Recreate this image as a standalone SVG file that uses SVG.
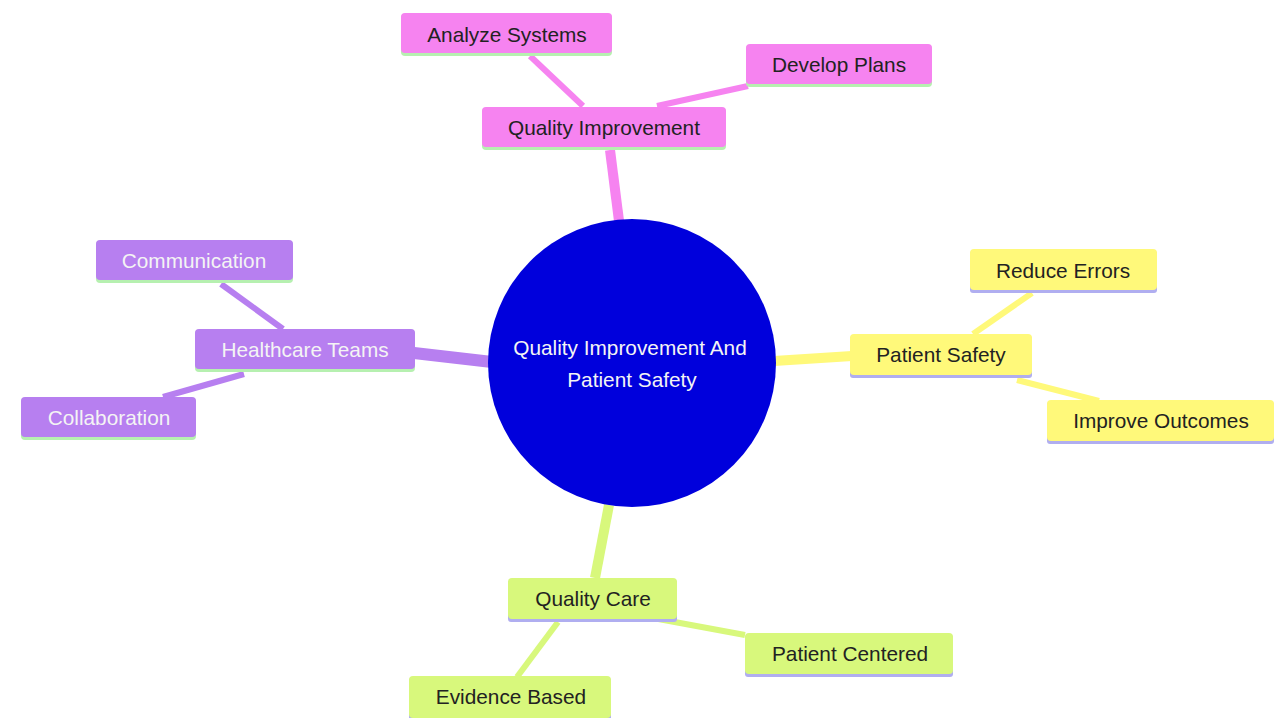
<svg xmlns="http://www.w3.org/2000/svg" width="1274" height="718" viewBox="0 0 1274 718">
<style>
text{font-family:"Liberation Sans",Arial,sans-serif;font-size:20.8px;text-anchor:middle;dominant-baseline:central}
.pk rect.b{fill:#f683f0}.pu rect.b{fill:#b77ff0}.ye rect.b{fill:#fff97a}.li rect.b{fill:#d8f87c}
.ul-g{fill:#b6f0b0}.ul-l{fill:#b0aef0}
.dk{fill:#222}.wt{fill:#f4f4f4}
.c{fill:none;stroke-linecap:butt}
</style>
<rect width="1274" height="718" fill="#fff"/>
<g id="connectors">
<line class="c" x1="619" y1="221" x2="610" y2="150" stroke="#f683f0" stroke-width="10"/>
<line class="c" x1="530" y1="56" x2="583" y2="106" stroke="#f683f0" stroke-width="6"/>
<line class="c" x1="657" y1="106" x2="748" y2="86" stroke="#f683f0" stroke-width="6"/>
<line class="c" x1="414" y1="353" x2="492" y2="362" stroke="#b77ff0" stroke-width="12"/>
<line class="c" x1="221" y1="284" x2="283" y2="329" stroke="#b77ff0" stroke-width="6"/>
<line class="c" x1="163" y1="397" x2="244" y2="374" stroke="#b77ff0" stroke-width="6"/>
<line class="c" x1="774" y1="361" x2="852" y2="356" stroke="#fff97a" stroke-width="10"/>
<line class="c" x1="973" y1="334" x2="1032" y2="293" stroke="#fff97a" stroke-width="6"/>
<line class="c" x1="1017" y1="380" x2="1099" y2="401" stroke="#fff97a" stroke-width="6"/>
<line class="c" x1="609" y1="505" x2="595" y2="578" stroke="#d8f87c" stroke-width="10"/>
<line class="c" x1="653" y1="618" x2="745" y2="635" stroke="#d8f87c" stroke-width="6"/>
<line class="c" x1="558" y1="622" x2="517" y2="677" stroke="#d8f87c" stroke-width="6"/>
</g>
<g id="root">
<circle cx="632" cy="363" r="144" fill="#0000dc"/>
<text x="630" y="347" class="wt">Quality Improvement And</text>
<text x="632" y="379" class="wt">Patient Safety</text>
</g>
<g id="n-qi" class="pk"><rect class="ul-g" x="482" y="108" width="244" height="42" rx="4"/><rect class="b" x="482" y="107" width="244" height="40" rx="4"/><text x="604" y="127" class="dk">Quality Improvement</text></g>
<g id="n-as" class="pk"><rect class="ul-g" x="401" y="14" width="211" height="42" rx="4"/><rect class="b" x="401" y="13" width="211" height="40" rx="4"/><text x="507" y="34" class="dk">Analyze Systems</text></g>
<g id="n-dp" class="pk"><rect class="ul-g" x="746" y="45" width="186" height="42" rx="4"/><rect class="b" x="746" y="44" width="186" height="40" rx="4"/><text x="839" y="64" class="dk">Develop Plans</text></g>
<g id="n-ht" class="pu"><rect class="ul-g" x="195" y="330" width="220" height="42" rx="4"/><rect class="b" x="195" y="329" width="220" height="40" rx="4"/><text x="305" y="349" class="wt">Healthcare Teams</text></g>
<g id="n-cm" class="pu"><rect class="ul-g" x="96" y="241" width="197" height="42" rx="4"/><rect class="b" x="96" y="240" width="197" height="40" rx="4"/><text x="194" y="260" class="wt">Communication</text></g>
<g id="n-co" class="pu"><rect class="ul-g" x="21" y="398" width="175" height="42" rx="4"/><rect class="b" x="21" y="397" width="175" height="40" rx="4"/><text x="109" y="417" class="wt">Collaboration</text></g>
<g id="n-ps" class="ye"><rect class="ul-l" x="850" y="336" width="182" height="42" rx="3"/><rect class="b" x="850" y="334" width="182" height="41" rx="4"/><text x="941" y="354" class="dk">Patient Safety</text></g>
<g id="n-re" class="ye"><rect class="ul-l" x="970" y="251" width="187" height="42" rx="3"/><rect class="b" x="970" y="249" width="187" height="41" rx="4"/><text x="1063" y="270" class="dk">Reduce Errors</text></g>
<g id="n-io" class="ye"><rect class="ul-l" x="1047" y="402" width="227" height="42" rx="3"/><rect class="b" x="1047" y="400" width="227" height="41" rx="4"/><text x="1161" y="420" class="dk">Improve Outcomes</text></g>
<g id="n-qc" class="li"><rect class="ul-l" x="508" y="580" width="169" height="42" rx="3"/><rect class="b" x="508" y="578" width="169" height="41" rx="4"/><text x="593" y="598" class="dk">Quality Care</text></g>
<g id="n-pc" class="li"><rect class="ul-l" x="745" y="635" width="208" height="42" rx="3"/><rect class="b" x="745" y="633" width="208" height="41" rx="4"/><text x="850" y="653" class="dk">Patient Centered</text></g>
<g id="n-eb" class="li"><rect class="ul-l" x="409" y="678" width="202" height="42" rx="3"/><rect class="b" x="409" y="676" width="202" height="42" rx="4"/><text x="511" y="696" class="dk">Evidence Based</text></g>
</svg>
